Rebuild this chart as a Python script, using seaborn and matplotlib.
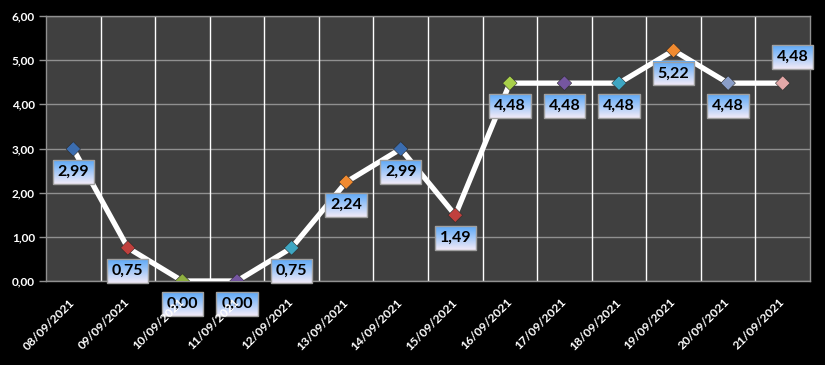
import numpy as np
import pandas as pd
import matplotlib
matplotlib.use("Agg")
import matplotlib.pyplot as plt
from matplotlib.patches import Rectangle
from matplotlib.ticker import FuncFormatter, FixedLocator
import seaborn as sns

# ---- data ----
dates = ["08/09/2021", "09/09/2021", "10/09/2021", "11/09/2021", "12/09/2021",
         "13/09/2021", "14/09/2021", "15/09/2021", "16/09/2021", "17/09/2021",
         "18/09/2021", "19/09/2021", "20/09/2021", "21/09/2021"]
values = [2.99, 0.75, 0.00, 0.00, 0.75, 2.24, 2.99, 1.49, 4.48, 4.48, 4.48, 5.22, 4.48, 4.48]
y_ticks = [0, 1, 2, 3, 4, 5, 6]

# ---- styles ----
marker_colors = ["#3b6db0", "#c0403d", "#8fb040", "#7556a0", "#3ea6c2", "#f08a30",
                 "#3b6db0", "#c0403d", "#a8d04a", "#7556a0", "#3ea6c2", "#f08a30",
                 "#8a9ec8", "#e4a8a8"]
label_offsets_px = [(0, -23)] * 13 + [(10, 26)]

sns.set_theme(style="dark")
plt.rcParams['font.family'] = ['Lato', 'DejaVu Sans']

W, H, DPI = 827, 367, 100
fig = plt.figure(figsize=(W / DPI, H / DPI), dpi=DPI, facecolor="white")
fig.patches.append(Rectangle((0, 2 / H), (W - 2) / W, 1 - 2 / H, transform=fig.transFigure,
                             facecolor="black", edgecolor="none", zorder=-10))

ax = fig.add_axes([46 / W, 1 - 281 / H, (810 - 46) / W, (281 - 16) / H])
ax.set_facecolor("#404040")

df = pd.DataFrame({"idx": np.arange(len(dates)), "date": dates, "value": values})

sns.lineplot(data=df, x="idx", y="value", color="white", linewidth=3.8, ax=ax, zorder=3,
             solid_joinstyle="round", solid_capstyle="round")
sns.scatterplot(data=df, x="idx", y="value", hue="date", palette=marker_colors, marker="D",
                s=55, edgecolor="#2a2a2a", linewidth=0.4, ax=ax, zorder=4, legend=False)

n = len(dates)
ax.set_xlim(-0.5, n - 0.5)
ax.set_ylim(0, 6)
ax.set_xlabel("")
ax.set_ylabel("")

# vertical white gridlines at category boundaries (behind the line)
for b in np.arange(0.5, n - 0.5, 1.0):
    ax.axvline(b, color="white", linewidth=1, zorder=1)

# x ticks: labels at centres, marks at boundaries
ax.set_xticks(np.arange(n))
ax.set_xticklabels(dates, rotation=45, ha="right", va="center", rotation_mode="anchor",
                   color="white", fontsize=8.7, fontweight="bold")
ax.tick_params(axis="x", which="major", length=0, pad=14)
ax.xaxis.set_minor_locator(FixedLocator(np.arange(-0.5, n, 1.0)))
ax.tick_params(axis="x", which="minor", length=5, color="#909090", width=1, direction="out")
ax.grid(axis="x", visible=False, which="both")

ax.set_yticks(y_ticks)
ax.yaxis.set_major_formatter(FuncFormatter(lambda v, p: f"{v:.2f}".replace(".", ",")))
ax.tick_params(axis="y", which="major", length=5, color="#909090", width=1, direction="out",
               labelcolor="white", labelsize=8.5, pad=3, left=True)
for lbl in ax.get_yticklabels():
    lbl.set_fontweight("bold")
ax.grid(axis="y", which="major", color="#909090", linewidth=1)
ax.set_axisbelow(True)
ax.xaxis.set_zorder(9)  # tick labels drawn over data-label boxes

for side in ["left", "bottom", "right", "top"]:
    ax.spines[side].set_visible(True)
    ax.spines[side].set_color("#909090")
    ax.spines[side].set_linewidth(1)

# ---- data labels with gradient boxes ----
texts = []
for i, (v, (dx, dy)) in enumerate(zip(values, label_offsets_px)):
    t = ax.annotate(f"{v:.2f}".replace(".", ","), xy=(i, v), xytext=(dx * 72 / DPI, dy * 72 / DPI),
                    textcoords="offset points", ha="center", va="center",
                    fontsize=11.5, fontweight="bold", color="black", zorder=7,
                    annotation_clip=False,
                    bbox=dict(boxstyle="square,pad=0.3", facecolor="none",
                              edgecolor="#a0a0a0", linewidth=1))
    texts.append(t)

fig.canvas.draw()
renderer = fig.canvas.get_renderer()
grad = np.linspace(0, 1, 64)[:, None]
top_c = np.array([0.36, 0.66, 0.97])
bot_c = np.array([0.95, 0.92, 0.97])
img = top_c[None, None, :] * (1 - grad[:, :, None]) + bot_c[None, None, :] * grad[:, :, None]
img = np.repeat(img, 4, axis=1)
inv = ax.transData.inverted()
for t in texts:
    bb = t.get_bbox_patch().get_window_extent(renderer)
    (x0, y0), (x1, y1) = inv.transform([(bb.x0, bb.y0), (bb.x1, bb.y1)])
    ax.imshow(img, extent=(x0, x1, y0, y1), aspect="auto", zorder=6, clip_on=False,
              interpolation="bilinear")
ax.set_xlim(-0.5, n - 0.5)
ax.set_ylim(0, 6)

fig.savefig("out.png", dpi=DPI, facecolor=fig.get_facecolor())
